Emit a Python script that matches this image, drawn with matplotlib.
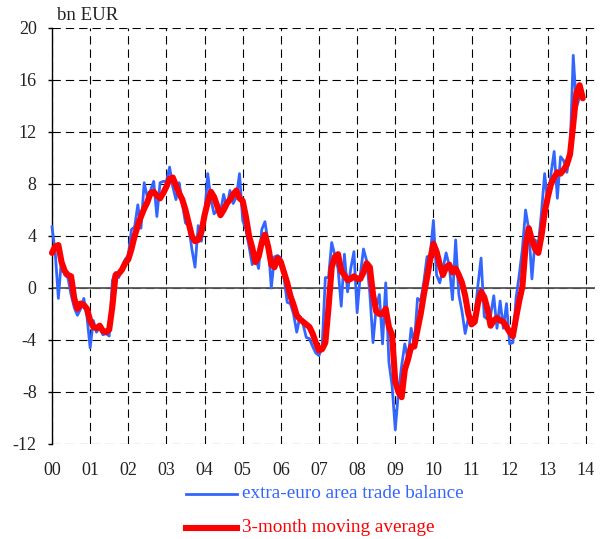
import numpy as np
import matplotlib
matplotlib.use("Agg")
from matplotlib import pyplot as plt
from matplotlib.lines import Line2D

plt.rcParams['font.family'] = ['Liberation Serif', 'DejaVu Serif']
plt.rcParams['axes.unicode_minus'] = False

# monthly extra-euro area trade balance, bn EUR, Jan 2000 - Dec 2013
trade_balance = [
    4.7, 2.8, -0.8, 2.3, 1.0, 0.8, -0.5, -1.5, -2.1, -1.6, -0.8, -2.2,      # 2000
    -4.6, -2.5, -3.4, -3.0, -3.6, -3.5, -3.7, 0.6, 1.2, 0.8, 1.6, 2.2,      # 2001
    2.5, 4.5, 4.7, 6.4, 4.6, 8.1, 7.0, 7.5, 8.2, 5.5, 8.1, 8.2,             # 2002
    8.2, 9.3, 7.8, 6.8, 8.1, 6.5, 5.0, 4.8, 3.0, 1.6, 4.8, 3.6,             # 2003
    5.5, 8.8, 6.8, 5.7, 6.0, 5.8, 7.2, 6.2, 7.5, 6.5, 7.0, 8.8,             # 2004
    5.2, 4.5, 3.2, 1.8, 2.4, 1.5, 4.5, 5.1, 3.5, 0.0, 2.4, 2.5,             # 2005
    2.3, 0.8, -1.1, -1.2, -2.0, -3.4, -2.2, -2.8, -3.8, -3.9, -4.5, -5.0,   # 2006
    -5.2, -4.5, 0.8, 0.8, 3.5, 2.5, 1.5, -1.4, 2.6, -0.3, 1.5, 2.8,         # 2007
    -1.9, 1.0, 3.0, 2.1, -0.4, -4.2, -1.5, -0.5, -4.3, 0.4, -5.7, -7.5,     # 2008
    -10.9, -8.0, -6.0, -4.3, -5.5, -3.1, -4.3, -0.8, -1.0, 0.5, 2.4, 2.5,   # 2009
    5.2, 1.0, 0.4, 1.5, 2.7, 1.7, -0.9, 3.7, -0.5, -1.8, -3.5, -2.3,        # 2010
    -2.8, -2.3, 0.2, 2.3, -2.2, -2.4, -2.1, -0.6, -3.1, -1.0, -3.1, -1.2,   # 2011
    -4.3, -4.2, -0.8, 1.0, 3.0, 6.0, 4.5, 0.7, 3.7, 3.3, 5.8, 8.8,          # 2012
    6.5, 8.8, 10.5, 6.9, 10.1, 9.8, 8.9, 10.4, 17.9, 13.9, 14.7, 14.5,      # 2013
]

# 3-month moving average
moving_avg = [
    2.7, 3.2, 3.3, 2.0, 1.3, 1.0, 0.9, -0.8, -1.6, -1.2, -1.3, -1.6,
    -2.5, -3.0, -3.1, -2.9, -3.3, -3.4, -3.2, -1.4, 1.0, 1.1, 1.4, 1.9,
    2.2, 3.0, 4.0, 4.8, 5.5, 6.1, 6.6, 7.3, 7.4, 7.1, 6.9, 7.3,
    7.8, 8.4, 8.5, 7.9, 7.3, 6.8, 6.0, 5.0, 4.0, 3.6, 3.7, 4.3,
    5.6, 6.6, 7.4, 7.0, 6.3, 5.6, 6.0, 6.5, 6.8, 7.2, 7.5, 6.9,
    6.7, 5.5, 4.0, 3.1, 2.0, 2.4, 3.5, 4.1, 3.2, 1.8, 1.6, 2.3,
    2.0, 1.2, 0.4, -0.6, -1.3, -2.1, -2.4, -2.6, -2.8, -3.0, -3.5, -4.2,
    -4.8, -4.7, -4.2, -1.5, 1.6, 2.4, 2.6, 1.3, 1.0, 0.6, 0.7, 0.9,
    0.7, 0.7, 1.2, 1.9, 1.6, -0.5, -1.8, -2.0, -2.0, -1.6, -3.0, -3.6,
    -7.2, -8.0, -8.4, -6.3, -5.5, -4.5, -4.5, -3.2, -2.0, -0.5, 0.8, 2.2,
    3.4, 2.8, 1.8, 1.0, 1.6, 1.8, 1.2, 1.5, 1.0, 0.4, -0.6, -2.0,
    -2.8, -2.6, -1.2, -0.3, -0.7, -1.6, -2.9, -2.5, -2.3, -2.5, -2.6, -3.0,
    -3.4, -3.7, -2.3, -1.0, 0.1, 3.2, 4.6, 3.7, 3.0, 2.7, 4.0, 5.8,
    7.0, 8.0, 8.5, 8.9, 8.8, 9.1, 9.5, 10.3, 12.6, 15.0, 15.6, 14.6,
]

year_ticks = list(range(2000, 2015))
year_labels = ['00', '01', '02', '03', '04', '05', '06', '07', '08', '09', '10', '11', '12', '13', '14']
y_ticks = [-12, -8, -4, 0, 4, 8, 12, 16, 20]

blue = '#3366ff'
red = '#ff0000'
txt = '#222222'

dates = 2000 + np.arange(len(trade_balance)) / 12.0

W, H = 612, 539
fig = plt.figure(figsize=(W / 100, H / 100), dpi=100)
ax = fig.add_axes([52 / W, 1 - 444 / H, (595 - 52) / W, (444 - 28) / H])

ax.set_xlim(2000, 2000 + (595 - 52) / 38.14)
ax.set_ylim(-12, 20)
ax.set_xticks(year_ticks)
ax.set_xticklabels(year_labels)
ax.set_yticks(y_ticks)

ax.grid(True, linestyle=(0, (7.5, 4.5)), color='black', linewidth=0.8)
ax.set_axisbelow(True)
ax.axhline(0, color='#555555', linewidth=1.3, zorder=1.5)

ax.plot(dates, trade_balance, color=blue, linewidth=2.0, zorder=3, clip_on=False)
ax.plot(dates, moving_avg, color=red, linewidth=4.4, zorder=4, clip_on=False,
        solid_joinstyle='round', solid_capstyle='round')

for s in ['top', 'right', 'bottom']:
    ax.spines[s].set_visible(False)
ax.spines['left'].set_color('black')
ax.spines['left'].set_linewidth(1.0)

ax.tick_params(axis='y', direction='out', length=3, width=1, pad=8, labelsize=13, labelcolor=txt)
ax.tick_params(axis='x', length=0, pad=13, labelsize=13, labelcolor=txt)

fig.text(57 / W, 1 - 16 / H, 'bn EUR', fontsize=13.5, color=txt, ha='left', va='center')

# legend below the axis
for yy, col, lw, label in [(494, blue, 2.0, 'extra-euro area trade balance'),
                           (528, red, 4.4, '3-month moving average')]:
    fig.add_artist(Line2D([186 / W, 237 / W], [1 - yy / H, 1 - yy / H], color=col, linewidth=lw))
    fig.text(242 / W, 1 - yy / H, label, fontsize=13.8, color=col, ha='left', va='center')

fig.savefig('out.png', dpi=100)
